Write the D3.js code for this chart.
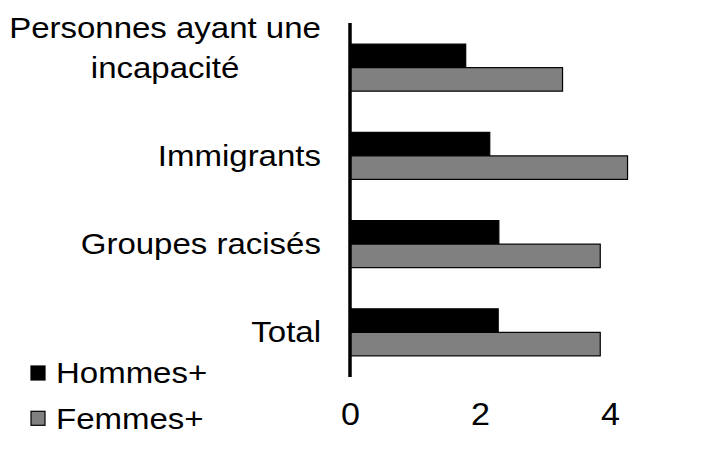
<!DOCTYPE html>
<html>
<head>
<meta charset="utf-8">
<script src="https://cdn.jsdelivr.net/npm/d3@7"></script>
<style>
  html, body { margin: 0; padding: 0; background: #fff; }
  text { font-family: "Liberation Sans", Arial, sans-serif; font-size: 30px; fill: #000; }
</style>
</head>
<body>
<svg id="chart" width="709" height="461"></svg>
<script>
// chart values
const categories = ["Personnes ayant une incapacité", "Immigrants", "Groupes racisés", "Total"];
const categoryLines = [["Personnes ayant une", "incapacité"], ["Immigrants"], ["Groupes racisés"], ["Total"]];
const series = ["Hommes+", "Femmes+"];
const hommes = [1.78, 2.15, 2.29, 2.28];
const femmes = [3.27, 4.27, 3.85, 3.85];
const xTicks = [0, 2, 4];

const colors = {"Hommes+": "#000000", "Femmes+": "#808080"};
const sx = 1.1; // text in the picture is a bit wide

const rows = categories.map((c, i) => ({cat: c, lines: categoryLines[i], "Hommes+": hommes[i], "Femmes+": femmes[i]}));

const svg = d3.select("#chart");

var x = d3.scaleLinear().domain([0, 5]).range([350, 675]);
var y = d3.scaleBand().domain(categories).range([0, 400]).paddingInner(0.467).paddingOuter(0.5);
var y1 = d3.scaleBand().domain(series).range([0, y.bandwidth()]);

// bars
const groups = svg.selectAll(".grp")
    .data(rows)
    .enter()
    .append("g")
    .attr("class", "grp")
    .attr("transform", d => "translate(0," + y(d.cat) + ")");

groups.selectAll("rect")
    .data(d => series.map(s => ({s: s, v: d[s]})))
    .enter()
    .append("rect")
    .attr("x", x(0))
    .attr("y", d => y1(d.s))
    .attr("width", d => x(d.v) - x(0))
    .attr("height", y1.bandwidth())
    .attr("fill", d => colors[d.s])
    .attr("stroke", "#000")
    .attr("stroke-width", 1.2);

// vertical axis line
svg.append("line")
    .attr("x1", x(0)).attr("x2", x(0))
    .attr("y1", 23).attr("y2", 377)
    .attr("stroke", "#000")
    .attr("stroke-width", 3.5);

// category labels, right aligned, multi-line ones centred as a block
rows.forEach(d => {
    const base = y(d.cat) + y.bandwidth() / 2 + 10;
    const g = svg.append("g");
    const t = g.selectAll("text")
        .data(d.lines)
        .enter()
        .append("text")
        .attr("text-anchor", "middle")
        .attr("x", 0)
        .attr("y", (l, i) => -(d.lines.length - 1 - i) * 40)
        .text(l => l);
    let w = 0;
    t.each(function() { w = Math.max(w, this.getComputedTextLength()); });
    g.attr("transform", "translate(" + (321 - w * sx / 2) + "," + base + ") scale(" + sx + ",1)");
});

// x axis
const xAxis = svg.append("g")
    .attr("transform", "translate(0,400)")
    .call(d3.axisBottom(x).tickValues(xTicks).tickSize(0).tickPadding(3).tickFormat(d3.format("d")));
xAxis.select(".domain").remove();
xAxis.selectAll("text")
    .style("font-size", "31px")
    .style("font-family", "'Liberation Sans', Arial, sans-serif")
    .attr("fill", "#000")
    .attr("transform", "scale(" + sx + ",1)");

// legend
const leg = svg.selectAll(".legend")
    .data(series)
    .enter()
    .append("g")
    .attr("class", "legend")
    .attr("transform", (s, i) => "translate(31," + (366 + i * 45.3) + ")");
leg.append("rect")
    .attr("width", 14).attr("height", 14)
    .attr("fill", s => colors[s])
    .attr("stroke", "#000")
    .attr("stroke-width", 1.2);
leg.append("text")
    .attr("transform", "translate(25,17.3) scale(" + sx + ",1)")
    .text(s => s);
</script>
</body>
</html>
